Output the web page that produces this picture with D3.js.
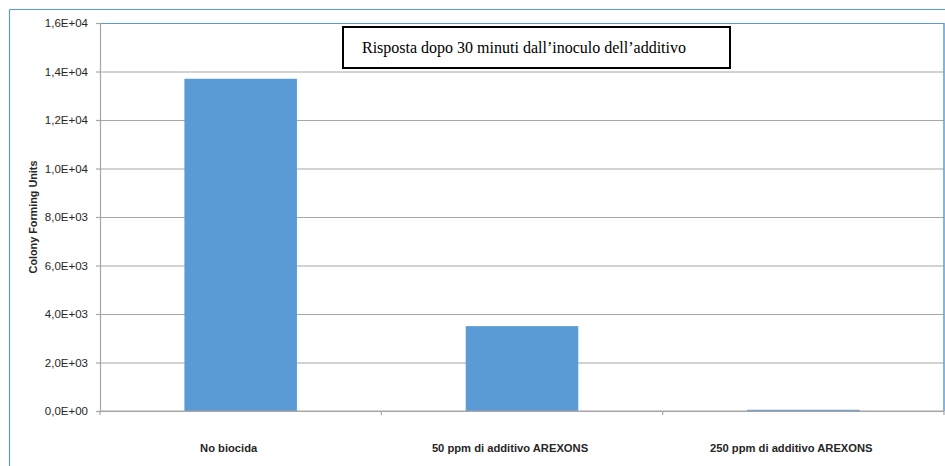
<!DOCTYPE html>
<html>
<head>
<meta charset="utf-8">
<script src="https://cdn.jsdelivr.net/npm/d3@7"></script>
<style>
  body { margin: 0; background: #fff; }
  #chart text { font-family: "Liberation Sans", Arial, sans-serif; }
</style>
</head>
<body>
<div id="chart"></div>
<script>
// data
var categories = ["No biocida", "50 ppm di additivo AREXONS", "250 ppm di additivo AREXONS"];
var cfu = [13700, 3500, 50];
var yTicks = [0, 2000, 4000, 6000, 8000, 10000, 12000, 14000, 16000];
var chartTitle = "Risposta dopo 30 minuti dall\u2019inoculo dell\u2019additivo";
var yTitle = "Colony Forming Units";

var W = 945, H = 466;
var margin = {top: 23, right: 1, bottom: 55, left: 100},
  width = W - margin.left - margin.right,
  height = H - margin.top - margin.bottom;

var root = d3.select("#chart")
  .append("svg")
  .attr("width", W)
  .attr("height", H);

// outer frame (blue, top + left)
root.append("line")
  .attr("x1", 9.5).attr("x2", W).attr("y1", 9.5).attr("y2", 9.5)
  .style("stroke", "#5b9bd5").style("stroke-width", 1.2);
root.append("line")
  .attr("x1", 9.5).attr("x2", 9.5).attr("y1", 9.5).attr("y2", H)
  .style("stroke", "#5b9bd5").style("stroke-width", 1.2);

var svg = root.append("g")
  .attr("transform", "translate(" + margin.left + "," + margin.top + ")");

var x = d3.scaleBand()
  .range([0, width])
  .domain(categories)
  .paddingInner(0.6)
  .paddingOuter(0.3);

var y = d3.scaleLinear()
  .range([height, 0])
  .domain([0, 16000]);

// 1,6E+04 style labels
function sciComma(v) {
  if (v === 0) return "0,0E+00";
  var e = Math.floor(Math.log10(v));
  var m = v / Math.pow(10, e);
  return m.toFixed(1).replace(".", ",") + "E+" + (e < 10 ? "0" + e : e);
}

// gridlines
svg.append("g")
  .attr("class", "grid")
  .call(d3.axisLeft(y).tickValues(yTicks).tickSize(-width).tickFormat(""))
  .call(function(g) {
    g.select(".domain").remove();
    g.selectAll(".tick line")
      .style("stroke", function(d) { return d === 16000 ? "#5b9bd5" : "#a6a6a6"; })
      .style("stroke-width", 1.2);
  });

// right border of plot
svg.append("line")
  .attr("x1", width).attr("x2", width).attr("y1", 0).attr("y2", height)
  .style("stroke", "#5b9bd5").style("stroke-width", 1.5);

// bars
svg.selectAll(".bar")
  .data(categories)
  .enter()
  .append("rect")
  .attr("class", "bar")
  .attr("x", function(d) { return x(d); })
  .attr("width", x.bandwidth())
  .attr("y", function(d, i) { return y(cfu[i]); })
  .attr("height", function(d, i) { return Math.max(1.5, height - y(cfu[i])); })
  .style("fill", "#5b9bd5");

// y axis
svg.append("g")
  .call(d3.axisLeft(y).tickValues(yTicks).tickSize(4).tickPadding(8).tickFormat(sciComma))
  .call(function(g) {
    g.select(".domain").style("stroke", "#a6a6a6").style("stroke-width", 1.2);
    g.selectAll(".tick line").style("stroke", "#a6a6a6").style("stroke-width", 1.2);
    g.selectAll(".tick text")
      .style("font-size", "11.5px")
      .style("fill", "#262626");
  });

// x axis: ticks at category boundaries
var step = x.step();
var bounds = d3.range(categories.length + 1).map(function(i) { return i * step; });
var xb = svg.append("g").attr("transform", "translate(0," + height + ")");
xb.append("line")
  .attr("x1", 0).attr("x2", width)
  .style("stroke", "#a6a6a6").style("stroke-width", 1.2);
xb.selectAll(".bt")
  .data(bounds)
  .enter()
  .append("line")
  .attr("x1", function(d) { return d; }).attr("x2", function(d) { return d; })
  .attr("y1", 0).attr("y2", 4)
  .style("stroke", "#a6a6a6").style("stroke-width", 1.2);
xb.selectAll(".cat")
  .data(categories)
  .enter()
  .append("text")
  .attr("x", function(d) { return x(d) + x.bandwidth() / 2 - 12; })
  .attr("y", 41)
  .attr("text-anchor", "middle")
  .style("font-size", "11.2px")
  .style("font-weight", "bold")
  .style("fill", "#262626")
  .text(function(d) { return d; });

// y title
root.append("text")
  .attr("transform", "translate(37," + (margin.top + height / 2) + ") rotate(-90)")
  .attr("text-anchor", "middle")
  .style("font-size", "10.8px")
  .style("font-weight", "bold")
  .style("fill", "#262626")
  .text(yTitle);

// title box
var tb = root.append("g");
tb.append("rect")
  .attr("x", 343).attr("y", 27).attr("width", 387).attr("height", 41)
  .style("fill", "#fff").style("stroke", "#000").style("stroke-width", 2);
tb.append("text")
  .attr("x", 362).attr("y", 53)
  .style("font-family", "'Liberation Serif', 'Times New Roman', serif")
  .style("font-size", "16px")
  .style("fill", "#000")
  .text(chartTitle);
</script>
</body>
</html>
